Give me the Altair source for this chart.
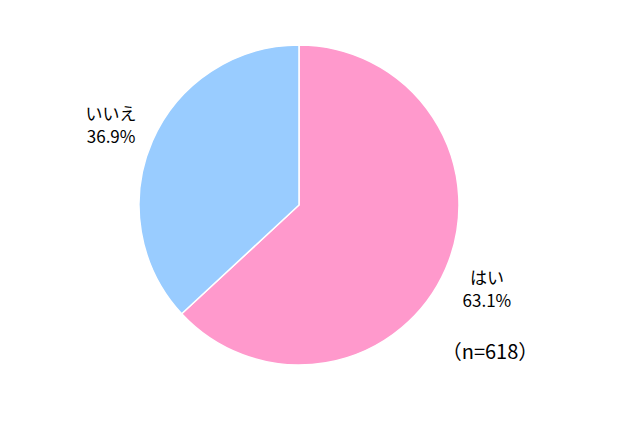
import altair as alt
import pandas as pd

categories = ["はい", "いいえ"]
values = [63.1, 36.9]
pct_labels = ["63.1%", "36.9%"]
colors = ["#FF99CC", "#99CCFF"]
note = ["（n=618）"]

df = pd.DataFrame({
    "cat": categories,
    "value": values,
    "order": list(range(len(categories))),
    "label": [[c, p] for c, p in zip(categories, pct_labels)],
})

FONT = "Noto Sans CJK JP"

base = alt.Chart(df).encode(
    theta=alt.Theta("value:Q", stack=True),
    order=alt.Order("order:O"),
    color=alt.Color("cat:N", scale=alt.Scale(domain=categories, range=colors), legend=None),
)

pie = base.mark_arc(outerRadius=160, stroke="white", strokeWidth=1.5).encode(
    x=alt.value(291), y=alt.value(197)
)

text = base.mark_text(radius=205, dy=-8, fontSize=17, font=FONT,
                      color="black", lineHeight=23).encode(
    x=alt.value(291), y=alt.value(197),
    text=alt.Text("label"),
    color=alt.value("black"),
)

note_df = pd.DataFrame({"t": note})
note_text = alt.Chart(note_df).mark_text(fontSize=20, font=FONT, color="black").encode(
    x=alt.value(482), y=alt.value(345), text="t:N"
)

chart = alt.layer(pie, text, note_text).properties(
    width=624, height=410, padding=0
).configure_view(stroke=None)

chart.save("out.html", embed_options={"renderer": "svg", "actions": False})
